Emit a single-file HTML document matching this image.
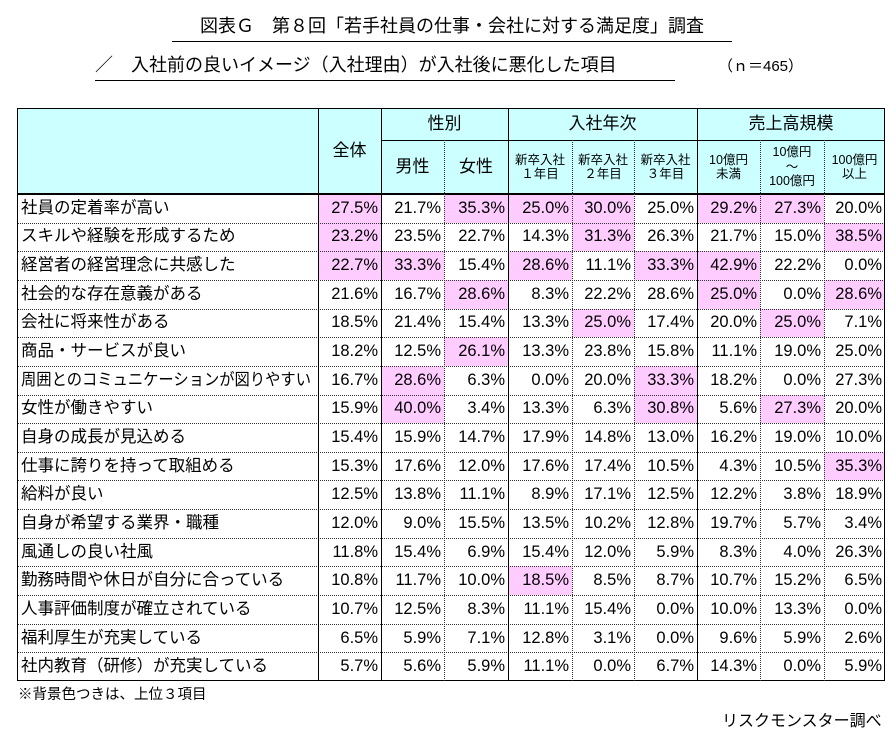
<!DOCTYPE html>
<html><head><meta charset="utf-8">
<style>
body{margin:0;background:#fff;width:896px;height:731px;position:relative;overflow:hidden;font-family:"Liberation Sans","Noto Sans CJK JP",sans-serif;color:#000}
.t{position:absolute;white-space:nowrap}
.c{position:absolute;box-sizing:border-box;display:flex;align-items:center;justify-content:center;text-align:center;line-height:1.15;white-space:nowrap}
.ln{position:absolute}
</style></head><body>
<div class="t" style="left:172px;top:12px;font-size:18px;border-bottom:1.5px solid #000;padding-bottom:3px;width:560px;text-align:center">図表Ｇ　第８回「若手社員の仕事・会社に対する満足度」調査</div>
<div class="t" style="left:95px;top:51px;font-size:18px;border-bottom:1.5px solid #000;padding-bottom:3px;width:580px">／　入社前の良いイメージ（入社理由）が入社後に悪化した項目</div>
<div class="t" style="left:718px;top:55px;font-size:15px">（ｎ＝465）</div>
<div id="tbl"></div>
<div class="t" style="left:18px;top:683px;font-size:14.5px">※背景色つきは、上位３項目</div>
<div class="t" style="left:722px;top:707px;font-size:16px">リスクモンスター調べ</div>
<script>
const labels=["社員の定着率が高い","スキルや経験を形成するため","経営者の経営理念に共感した","社会的な存在意義がある","会社に将来性がある","商品・サービスが良い","周囲とのコミュニケーションが図りやすい","女性が働きやすい","自身の成長が見込める","仕事に誇りを持って取組める","給料が良い","自身が希望する業界・職種","風通しの良い社風","勤務時間や休日が自分に合っている","人事評価制度が確立されている","福利厚生が充実している","社内教育（研修）が充実している"];
const values=[
[27.5,21.7,35.3,25.0,30.0,25.0,29.2,27.3,20.0],
[23.2,23.5,22.7,14.3,31.3,26.3,21.7,15.0,38.5],
[22.7,33.3,15.4,28.6,11.1,33.3,42.9,22.2,0.0],
[21.6,16.7,28.6,8.3,22.2,28.6,25.0,0.0,28.6],
[18.5,21.4,15.4,13.3,25.0,17.4,20.0,25.0,7.1],
[18.2,12.5,26.1,13.3,23.8,15.8,11.1,19.0,25.0],
[16.7,28.6,6.3,0.0,20.0,33.3,18.2,0.0,27.3],
[15.9,40.0,3.4,13.3,6.3,30.8,5.6,27.3,20.0],
[15.4,15.9,14.7,17.9,14.8,13.0,16.2,19.0,10.0],
[15.3,17.6,12.0,17.6,17.4,10.5,4.3,10.5,35.3],
[12.5,13.8,11.1,8.9,17.1,12.5,12.2,3.8,18.9],
[12.0,9.0,15.5,13.5,10.2,12.8,19.7,5.7,3.4],
[11.8,15.4,6.9,15.4,12.0,5.9,8.3,4.0,26.3],
[10.8,11.7,10.0,18.5,8.5,8.7,10.7,15.2,6.5],
[10.7,12.5,8.3,11.1,15.4,0.0,10.0,13.3,0.0],
[6.5,5.9,7.1,12.8,3.1,0.0,9.6,5.9,2.6],
[5.7,5.6,5.9,11.1,0.0,6.7,14.3,0.0,5.9]];
const colHeads=["男性","女性","新卒入社<br>１年目","新卒入社<br>２年目","新卒入社<br>３年目","10億円<br>未満","10億円<br>～<br>100億円","100億円<br>以上"];
const groups=["性別","入社年次","売上高規模"];

const T=document.getElementById('tbl');
const X=[17,318,381,444,508,572,634,697,760,824,885];
const Y0=108,Y1=140,Y2=194,YB=681;
const rh=(YB-Y2)/labels.length;
function cell(x,y,w,h,html,bg,fs,name,align){
  const d=document.createElement('div');d.className='c';
  
  
  d.style.cssText=`left:${x}px;top:${y}px;width:${w}px;height:${h}px;background:${bg};font-size:${fs}px;`+(align?`justify-content:${align};padding:0 4px;`:'');
  d.innerHTML=html;T.appendChild(d);return d;
}
function line(x,y,w,h,style,name){
  const d=document.createElement('div');d.className='ln';
  
  
  d.style.cssText=`left:${x}px;top:${y}px;width:${w}px;height:${h}px;`+style;T.appendChild(d);
}
cell(X[0],Y0,X[10]-X[0],Y2-Y0,'','#ccffff',14,'header-background');
cell(X[1],Y0,X[2]-X[1],Y2-Y0,'全体','transparent',17,'header-total');
const gspan=[[2,4],[4,7],[7,10]];
gspan.forEach((g,i)=>{cell(X[g[0]],Y0,X[g[1]]-X[g[0]],Y1-Y0,groups[i],'transparent',17,'group-header');});
colHeads.forEach((h,i)=>{cell(X[i+2],Y1,X[i+3]-X[i+2],Y2-Y1,h,'transparent',i<2?17:12.5,'column-header');});
const hl=values.map(r=>r.map(()=>false));
for(let c=0;c<9;c++){
  const s=values.map(r=>r[c]).sort((a,b)=>b-a);const th=s[2];
  values.forEach((r,i)=>{if(r[c]>=th&&r[c]>0)hl[i][c]=true;});
}
labels.forEach((lab,i)=>{
  const y=Y2+i*rh;
  const lc=cell(X[0],y,X[1]-X[0],rh,'<span>'+lab+'</span>','#fff',16.5,'row-label','flex-start');
  const sp=lc.firstChild;sp.style.display='inline-block';sp.style.whiteSpace='nowrap';sp.style.transformOrigin='left center';
  const w=sp.getBoundingClientRect().width;if(w>290)sp.style.transform=`scaleX(${290/w})`;
  values[i].forEach((v,c)=>{
    cell(X[c+1],y,X[c+2]-X[c+1],rh,v.toFixed(1)+'%',hl[i][c]?'#ffccff':'#fff',16.5,'value-cell','flex-end').style.paddingRight='3px';
  });
  if(i>0)line(X[0],y,X[10]-X[0],0,'border-top:1px dotted #333','row-divider');
});
line(X[0],Y0,X[10]-X[0],Y2-Y0,'border:1.5px solid #000;box-sizing:border-box','header-border');
line(X[0],Y2,X[10]-X[0],YB-Y2,'border:1.5px solid #000;box-sizing:border-box','body-border');
line(X[2],Y1,X[10]-X[2],0,'border-top:1px solid #000','subheader-line');
[1,2,4,7].forEach(k=>line(X[k],Y0,0,YB-Y0,'border-left:1.5px solid #000','group-divider'));
[3,5,6,8,9].forEach(k=>line(X[k],Y1,0,YB-Y1,'border-left:1px dotted #333','column-divider'));
</script>
</body></html>
